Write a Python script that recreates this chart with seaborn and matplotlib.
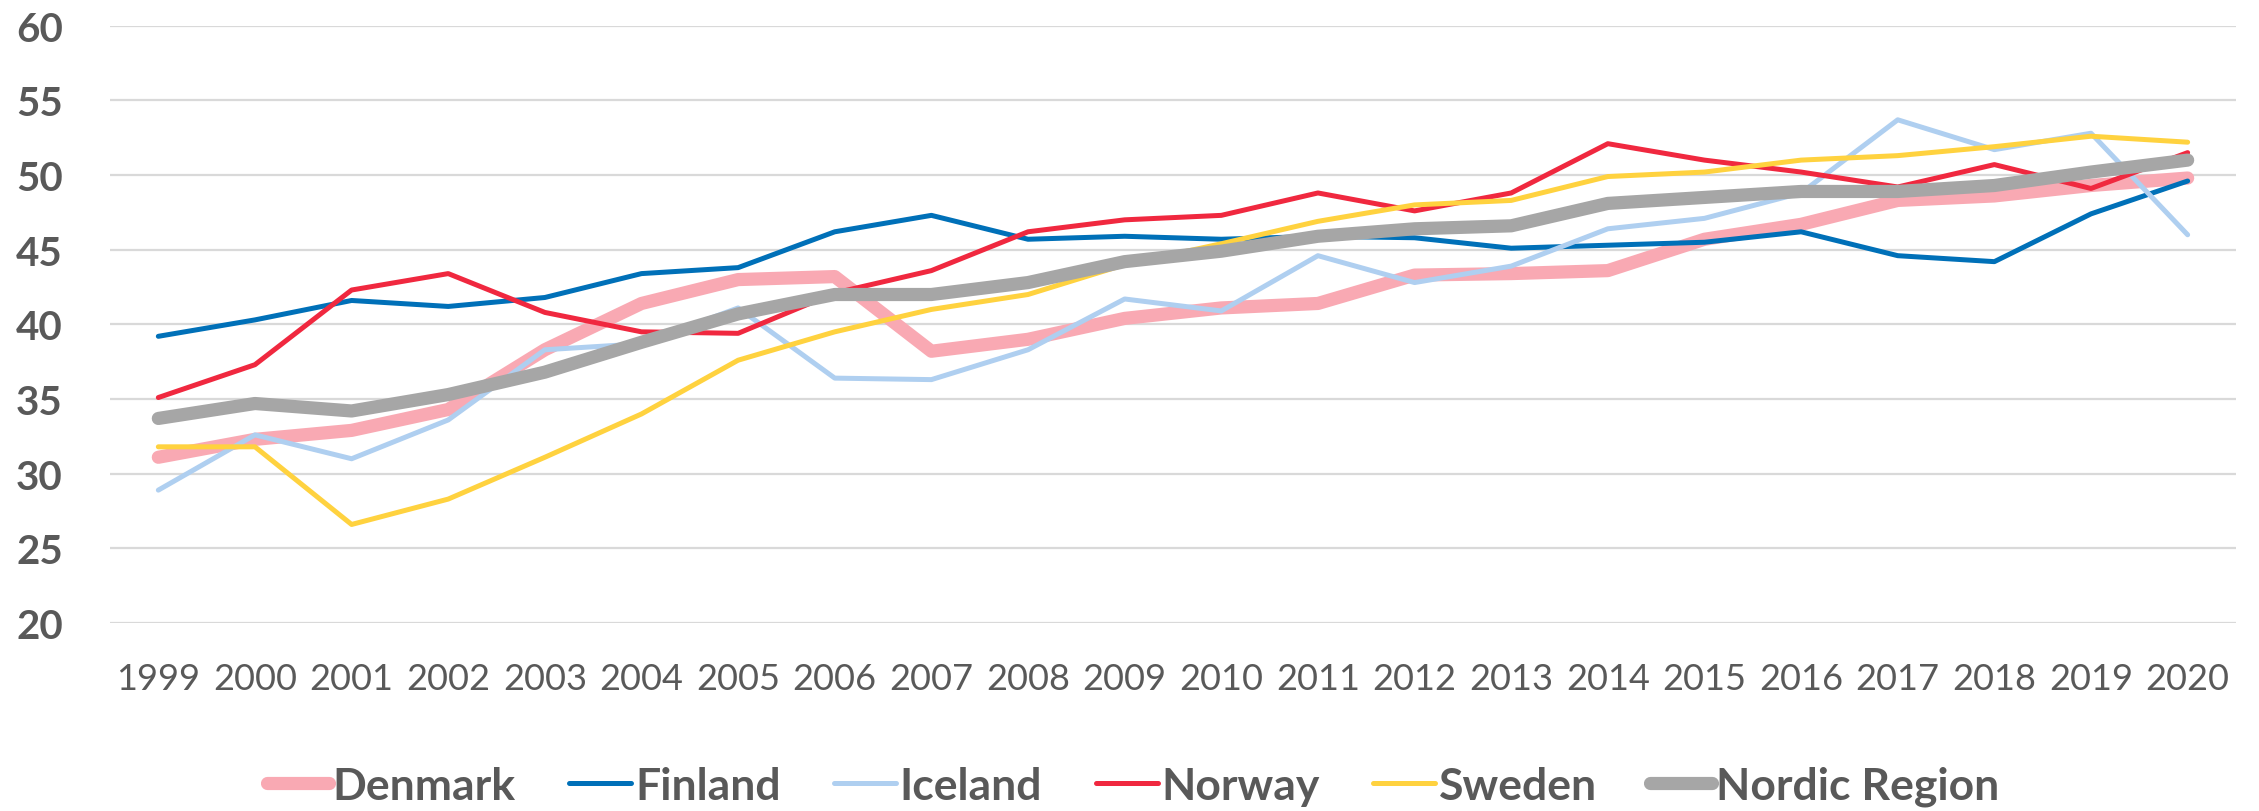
import numpy as np
import pandas as pd
import matplotlib
matplotlib.use('Agg')
import matplotlib.pyplot as plt
import seaborn as sns

# --- DATA ---
years = list(range(1999, 2021))

denmark = [31.1, 32.3, 32.9, 34.3, 38.3, 41.4, 43.0, 43.2, 38.2, 39.0, 40.4,
           41.1, 41.4, 43.3, 43.4, 43.6, 45.7, 46.7, 48.3, 48.6, 49.3, 49.8]
finland = [39.2, 40.3, 41.6, 41.2, 41.8, 43.4, 43.8, 46.2, 47.3, 45.7, 45.9,
           45.7, 45.9, 45.8, 45.1, 45.3, 45.5, 46.2, 44.6, 44.2, 47.4, 49.6]
iceland = [28.9, 32.6, 31.0, 33.6, 38.3, 38.7, 41.1, 36.4, 36.3, 38.3, 41.7,
           40.9, 44.6, 42.8, 43.9, 46.4, 47.1, 48.8, 53.7, 51.7, 52.8, 46.0]
norway = [35.1, 37.3, 42.3, 43.4, 40.8, 39.5, 39.4, 42.1, 43.6, 46.2, 47.0,
          47.3, 48.8, 47.6, 48.8, 52.1, 51.0, 50.2, 49.2, 50.7, 49.1, 51.5]
sweden = [31.8, 31.8, 26.6, 28.3, 31.1, 34.0, 37.6, 39.5, 41.0, 42.0, 44.0,
          45.4, 46.9, 48.0, 48.3, 49.9, 50.2, 51.0, 51.3, 51.9, 52.6, 52.2]
nordic = [33.7, 34.7, 34.2, 35.3, 36.8, 38.8, 40.7, 42.0, 42.0, 42.8, 44.2,
          44.9, 45.9, 46.4, 46.6, 48.1, 48.5, 48.9, 48.9, 49.3, 50.2, 51.0]

series_names = ['Denmark', 'Finland', 'Iceland', 'Norway', 'Sweden', 'Nordic Region']
series_values = [denmark, finland, iceland, norway, sweden, nordic]
y_ticks = [20, 25, 30, 35, 40, 45, 50, 55, 60]

# --- STYLE ---
colors = ['#F9A9B3', '#0070B8', '#AFCFF0', '#F0283F', '#FFD23F', '#A6A6A6']
widths = [9.5, 3.6, 3.6, 3.6, 3.6, 9.5]
text_color = '#595959'

sns.set_style('white')
plt.rcParams['font.family'] = ['Lato', 'DejaVu Sans']

fig = plt.figure(figsize=(22.59, 8.12), dpi=100)
ax = fig.add_axes([0.0487, 0.2315, 0.9411, 0.7356])

for name, vals, col, lw in zip(series_names, series_values, colors, widths):
    df = pd.DataFrame({'year': years, 'value': vals})
    sns.lineplot(data=df, x='year', y='value', color=col, linewidth=lw,
                 label=name, ax=ax, solid_capstyle='round', solid_joinstyle='round')

ax.set_xlim(1998.5, 2020.5)
ax.set_ylim(20, 60)
ax.set_xticks(years)
ax.set_xticklabels([str(y) for y in years])
ax.set_yticks(y_ticks)
ax.set_yticklabels([str(v) for v in y_ticks])
ax.yaxis.grid(True, color='#D9D9D9', linewidth=1.6)
ax.xaxis.grid(False)
ax.set_axisbelow(True)
for s in ax.spines.values():
    s.set_visible(False)
ax.set_xlabel('')
ax.set_ylabel('')
ax.tick_params(axis='x', length=0, pad=28, labelsize=26, labelcolor=text_color)
ax.tick_params(axis='y', length=0, pad=34, labelsize=29, labelcolor=text_color)
for lab in ax.get_yticklabels():
    lab.set_fontweight('bold')

ax.get_legend().remove()
handles, labels = ax.get_legend_handles_labels()
leg = fig.legend(handles, labels, loc='center', bbox_to_anchor=(0.5016, 0.031),
                 ncol=6, frameon=False, handlelength=1.4, handletextpad=0.08,
                 columnspacing=1.2, prop={'size': 32, 'weight': 'bold'})
for t in leg.get_texts():
    t.set_color(text_color)
for h in leg.get_lines():
    h.set_solid_capstyle('round')

fig.savefig('out.png', dpi=100)
